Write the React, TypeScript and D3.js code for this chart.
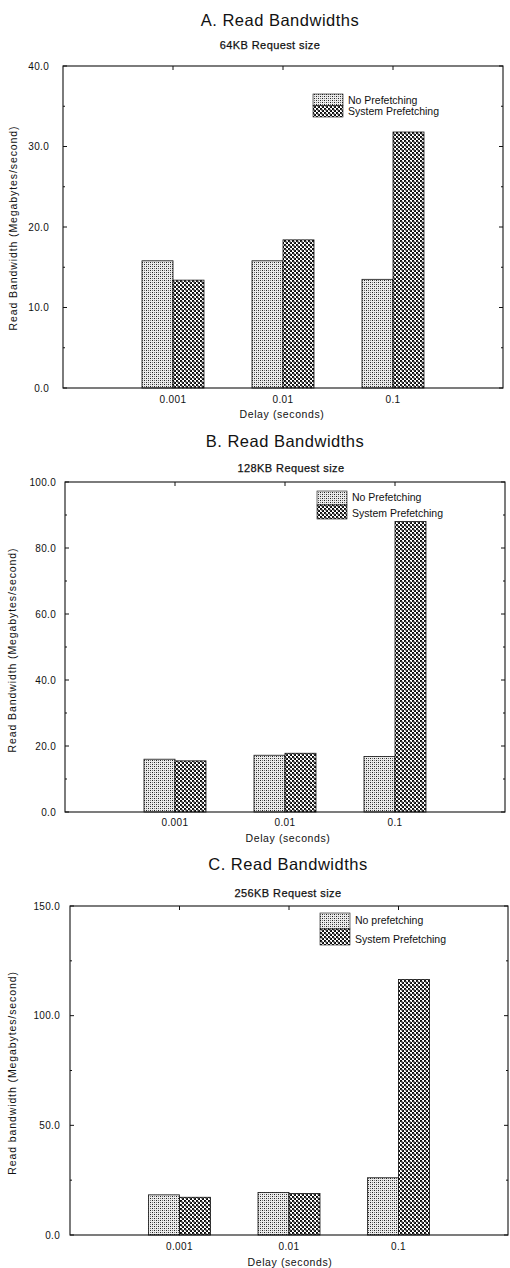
import React from "react";
import * as d3 from "d3";

// ---- data ----
const categories = ["0.001", "0.01", "0.1"];
const titles = ["A. Read Bandwidths", "B. Read Bandwidths", "C. Read Bandwidths"];
const subtitles = ["64KB Request size", "128KB Request size", "256KB Request size"];
const yLabels = [
  "Read Bandwidth (Megabytes/second)",
  "Read Bandwidth (Megabytes/second)",
  "Read bandwidth (Megabytes/second)",
];
const xLabel = "Delay (seconds)";
const seriesAB = ["No Prefetching", "System Prefetching"];
const seriesC = ["No prefetching", "System Prefetching"];

const noPrefA = [15.8, 15.8, 13.5];
const sysPrefA = [13.4, 18.4, 31.8];
const noPrefB = [16.0, 17.2, 16.8];
const sysPrefB = [15.5, 17.8, 88.0];
const noPrefC = [18.3, 19.4, 26.1];
const sysPrefC = [17.2, 18.9, 116.5];

const ticksA = [0, 10, 20, 30, 40];
const ticksB = [0, 20, 40, 60, 80, 100];
const ticksC = [0, 50, 100, 150];

// ---- layout ----
const FONT = "'Liberation Sans', Arial, Helvetica, sans-serif";

type Layout = {
  left: number; right: number; top: number; bottom: number;
  titleX: number; titleY: number; subX: number; subY: number;
  legX: number; legY: number; swH: number; legTextDY: number;
  yLabX: number; yLabY: number; tickGap: number; tickY: number; xLabY: number; xLabX: number;
};

const layouts: Layout[] = [
  { left: 63, right: 503, top: 66, bottom: 388, titleX: 280, titleY: 26, subX: 270, subY: 49,
    legX: 313, legY: 94, swH: 11.5, legTextDY: 0, yLabX: 13, yLabY: 228, tickGap: 14, tickY: 403, xLabY: 418, xLabX: 282 },
  { left: 65, right: 505, top: 482, bottom: 812, titleX: 285, titleY: 447, subX: 291, subY: 472,
    legX: 317, legY: 491, swH: 14, legTextDY: -2, yLabX: 12, yLabY: 650, tickGap: 9, tickY: 826, xLabY: 842, xLabX: 288 },
  { left: 70, right: 508, top: 906, bottom: 1235, titleX: 288, titleY: 870, subX: 288, subY: 897,
    legX: 320, legY: 913, swH: 16, legTextDY: -3, yLabX: 12, yLabY: 1073, tickGap: 10, tickY: 1250, xLabY: 1266, xLabX: 290 },
];

function Panel({ idx, series, noPref, sysPref, ticks }: {
  idx: number; series: string[]; noPref: number[]; sysPref: number[]; ticks: number[];
}) {
  const L = layouts[idx];
  const yMax = ticks[ticks.length - 1];
  const y = d3.scaleLinear().domain([0, yMax]).range([L.bottom, L.top]);
  const x = d3.scaleBand<string>().domain(categories).range([L.left, L.right]).paddingOuter(0.5).paddingInner(0);
  const bw = x.bandwidth();
  const inner = d3.scaleBand<string>().domain(series).range([bw / 2 - 31, bw / 2 + 31]);
  const fills = ["url(#patLight)", "url(#patDark)"];
  const vals = [noPref, sysPref];
  const minorStep = ticks[1] - ticks[0];
  const minors = d3.range(minorStep / 2, yMax, minorStep);

  return (
    <g fontFamily={FONT} fill="#111">
      <text x={L.titleX} y={L.titleY} textAnchor="middle" fontSize={16.5} letterSpacing={0.5}>{titles[idx]}</text>
      <text x={L.subX} y={L.subY} textAnchor="middle" fontSize={11} letterSpacing={0.4} stroke="#111" strokeWidth={0.25}>{subtitles[idx]}</text>

      {/* bars */}
      {categories.map((c, ci) =>
        series.map((s, si) => {
          const v = vals[si][ci];
          const x0 = (x(c) as number) + (inner(s) as number);
          return (
            <rect key={c + s} x={x0} y={y(v)} width={inner.bandwidth()} height={L.bottom - y(v)}
              fill={fills[si]} stroke="#111" strokeWidth={0.8} />
          );
        })
      )}

      {/* frame */}
      <rect x={L.left} y={L.top} width={L.right - L.left} height={L.bottom - L.top} fill="none" stroke="#111" strokeWidth={1.1} />

      {/* y ticks */}
      {ticks.map((t) => (
        <g key={"t" + t}>
          <line x1={L.left} x2={L.left + 4} y1={y(t)} y2={y(t)} stroke="#111" />
          <line x1={L.right} x2={L.right - 4} y1={y(t)} y2={y(t)} stroke="#111" />
          <text x={L.left - L.tickGap} y={y(t)} dy="0.35em" textAnchor="end" fontSize={10} letterSpacing={0.3}>
            {d3.format(".1f")(t)}
          </text>
        </g>
      ))}
      {minors.map((t) => (
        <g key={"m" + t}>
          <line x1={L.left} x2={L.left + 2} y1={y(t)} y2={y(t)} stroke="#111" />
          <line x1={L.right} x2={L.right - 2} y1={y(t)} y2={y(t)} stroke="#111" />
        </g>
      ))}

      {/* x ticks (top) and labels */}
      {categories.map((c) => {
        const cx = (x(c) as number) + bw / 2;
        return (
          <g key={"x" + c}>
            <line x1={cx} x2={cx} y1={L.top} y2={L.top + 4} stroke="#111" />
            <text x={cx} y={L.tickY} textAnchor="middle" fontSize={10} letterSpacing={0.4}>{c}</text>
          </g>
        );
      })}
      <text x={L.xLabX} y={L.xLabY} textAnchor="middle" fontSize={10.5} letterSpacing={0.6}>{xLabel}</text>
      <text transform={`translate(${L.yLabX},${L.yLabY}) rotate(-90)`} dy="0.35em" textAnchor="middle"
        fontSize={10.5} letterSpacing={0.9}>{yLabels[idx]}</text>

      {/* legend */}
      {series.map((s, si) => (
        <g key={"l" + s}>
          <rect x={L.legX} y={L.legY + si * L.swH} width={30} height={L.swH} fill={fills[si]} stroke="#111" strokeWidth={0.6} />
          <text x={L.legX + 35} y={L.legY + (si + 1) * L.swH - 2 + L.legTextDY * (si === 0 ? 1 : 0)} fontSize={10.5}>{s}</text>
        </g>
      ))}
    </g>
  );
}

export default function App() {
  return (
    <svg width={510} height={1268} style={{ position: "absolute", left: 0, top: 0, background: "#fff" }}>
      <defs>
        <pattern id="patLight" width={4} height={4} patternUnits="userSpaceOnUse">
          <rect width={4} height={4} fill="#ececec" />
          <rect x={0} y={0} width={1} height={1} fill="#222" />
          <rect x={2} y={2} width={1} height={1} fill="#222" />
          <rect x={2} y={0} width={1} height={1} fill="#777" />
          <rect x={0} y={2} width={1} height={1} fill="#777" />
        </pattern>
        <pattern id="patDark" width={4} height={4} patternUnits="userSpaceOnUse">
          <rect width={4} height={4} fill="#fff" />
          <rect x={0} y={0} width={2} height={2} fill="#111" />
          <rect x={2} y={2} width={2} height={2} fill="#111" />
          <rect x={1} y={1} width={2} height={2} fill="#555" opacity={0.6} />
        </pattern>
      </defs>
      <Panel idx={0} series={seriesAB} noPref={noPrefA} sysPref={sysPrefA} ticks={ticksA} />
      <Panel idx={1} series={seriesAB} noPref={noPrefB} sysPref={sysPrefB} ticks={ticksB} />
      <Panel idx={2} series={seriesC} noPref={noPrefC} sysPref={sysPrefC} ticks={ticksC} />
    </svg>
  );
}
